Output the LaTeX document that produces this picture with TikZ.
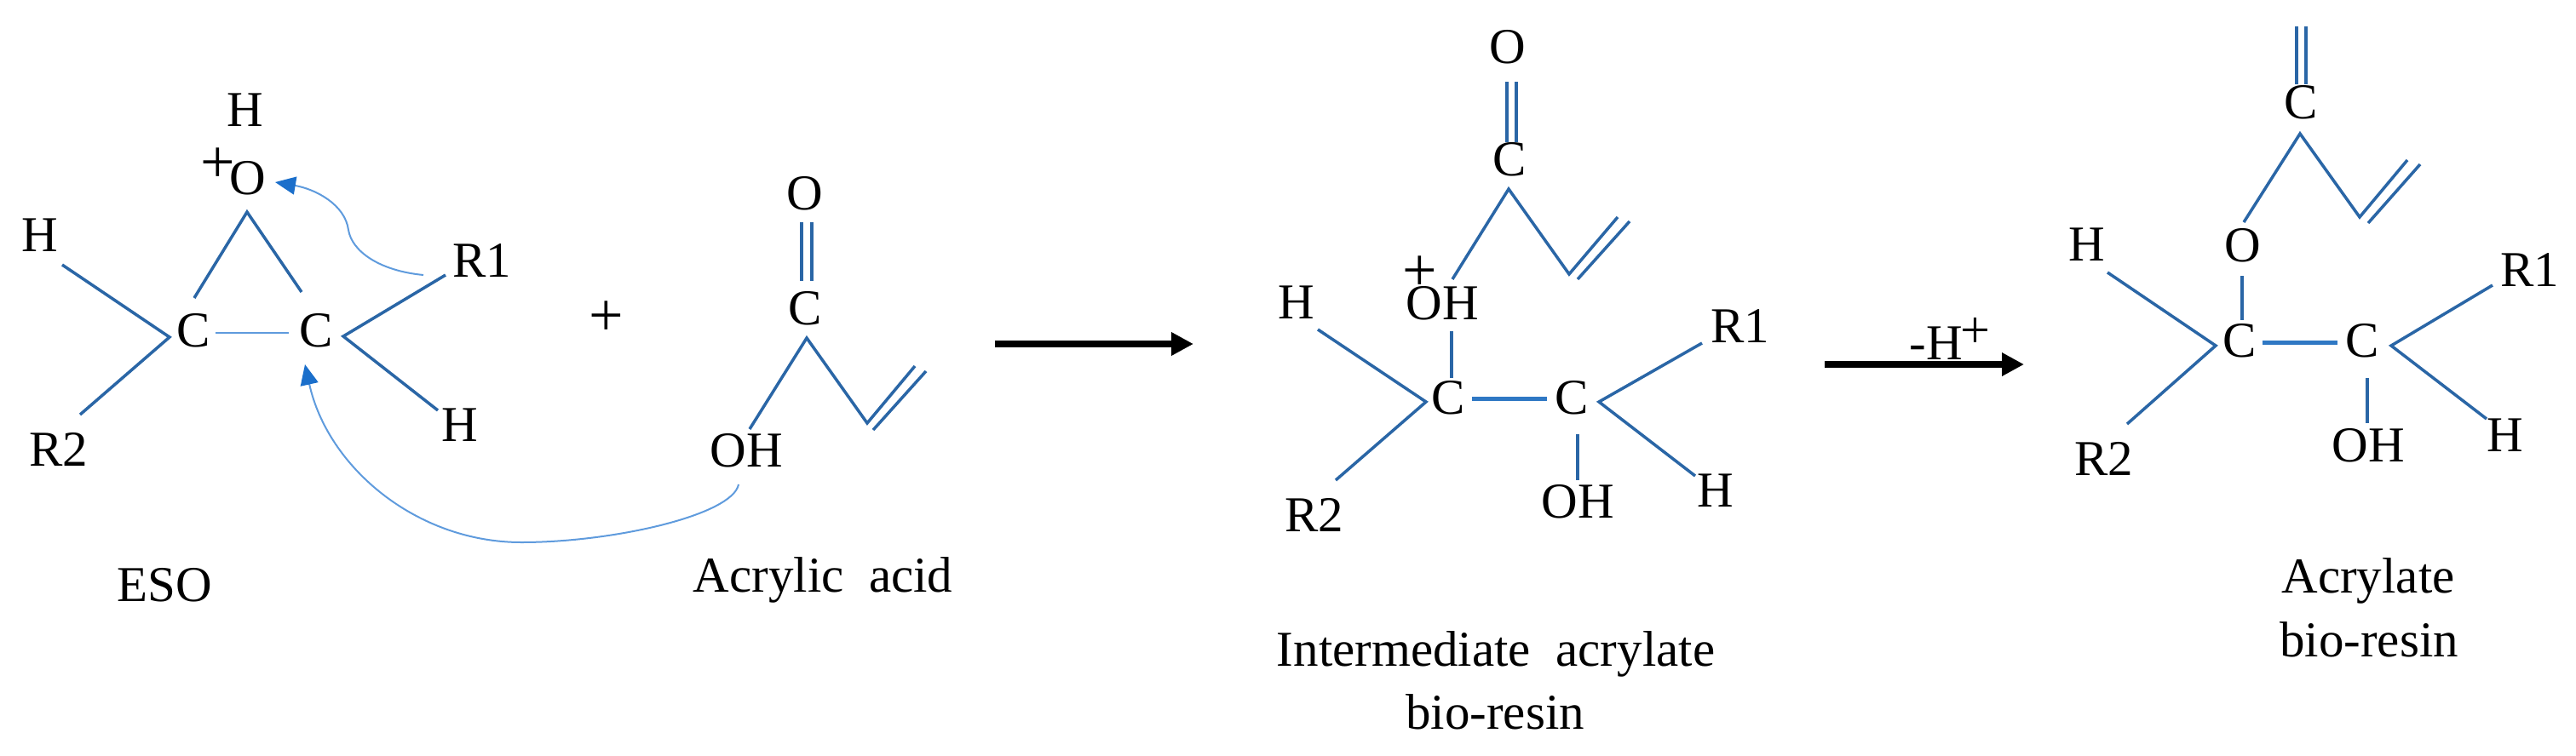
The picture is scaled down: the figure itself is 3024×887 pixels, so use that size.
\documentclass[tikz,border=0pt]{standalone}
\usepackage{fontspec}
\setmainfont{Liberation Serif}
\usetikzlibrary{arrows.meta}
\definecolor{bondblue}{HTML}{2A66A6}
\definecolor{brightblue}{HTML}{2F78C4}
\definecolor{curveblue}{HTML}{5F9BDD}
\definecolor{headblue}{HTML}{1B6FCB}
\tikzset{
  atom/.style={inner sep=0pt,outer sep=0pt,font=\fontsize{59}{69}\selectfont,align=center},
  charge/.style={inner sep=0pt,outer sep=0pt,font=\fontsize{72}{80}\selectfont},
  smallcharge/.style={inner sep=0pt,outer sep=0pt,font=\fontsize{62}{70}\selectfont},
  bond/.style={draw=bondblue,line width=3.5pt},
  ccbond/.style={draw=brightblue,line width=5pt},
  thinbond/.style={draw=curveblue,line width=2.5pt},
  curvearrow/.style={draw=curveblue,line width=2pt,-{Triangle[length=24pt,width=21pt,color=headblue]}},
  reaction/.style={draw=black,line width=8pt,-{Triangle[length=26pt,width=26pt]}}
}
\begin{document}
\begin{tikzpicture}[x=1pt,y=-1pt]
\useasboundingbox (0,0) rectangle (3024,887);
% ---- ESO
\node[atom] (eH) at (288,129) {H};
\node[atom] (eO) at (291,209) {O};
\node[charge] (ep) at (256,194) {+};
\node[atom] (eHl) at (47,276) {H};
\node[atom] (eC1) at (227,388) {C};
\node[atom] (eC2) at (371,388) {C};
\node[atom] (eR1) at (566,306) {R1};
\node[atom] (eR2) at (69,528) {R2};
\node[atom] (eHr) at (540,499) {H};
\node[atom] (eso) at (193,687) {ESO};
\coordinate (e1) at (73,311); \coordinate (e2) at (199,396); \coordinate (e3) at (94,487);
\coordinate (e4) at (228,350); \coordinate (e5) at (290,249); \coordinate (e6) at (354,343);
\coordinate (e7) at (253,391); \coordinate (e8) at (339,391);
\coordinate (e9) at (523,323); \coordinate (e10) at (403,395); \coordinate (e11) at (514,482);
\draw[bond] (e1) -- (e2) -- (e3);
\draw[bond] (e4) -- (e5) -- (e6);
\draw[thinbond] (e7) -- (e8);
\draw[bond] (e9) -- (e10) -- (e11);
\coordinate (ca1) at (497,323); \coordinate (ca2) at (409,270); \coordinate (ca3) at (323,214);
\draw[curvearrow] (ca1) .. controls (445,318) and (413,295) .. (ca2) .. controls (405,240) and (370,222) .. (ca3);
% ---- plus
\node[charge] (plus) at (712,374) {+};
% ---- Acrylic acid
\node[atom] (aO) at (945,227) {O};
\node[atom] (aC) at (945,362) {C};
\node[atom] (aOH) at (876,529) {OH};
\node[atom] (acr) at (966,681) {Acrylic\ \ acid};
\coordinate (a1) at (941,261); \coordinate (a2) at (941,330);
\coordinate (a3) at (953,261); \coordinate (a4) at (953,330);
\coordinate (a5) at (880,504); \coordinate (a6) at (947,397); \coordinate (a7) at (1018,497);
\coordinate (a8) at (1074,430); \coordinate (a9) at (1025,505); \coordinate (a10) at (1087,436);
\draw[bond] (a1) -- (a2);
\draw[bond] (a3) -- (a4);
\draw[bond] (a5) -- (a6) -- (a7) -- (a8);
\draw[bond] (a9) -- (a10);
\coordinate (cb1) at (867,569); \coordinate (cb2) at (612,637); \coordinate (cb3) at (358,428);
\draw[curvearrow] (cb1) .. controls (860,605) and (720,637) .. (cb2) .. controls (490,637) and (385,550) .. (cb3);
% ---- reaction arrow 1
\coordinate (r1) at (1168,404); \coordinate (r2) at (1401,404);
\draw[reaction] (r1) -- (r2);
% ---- Intermediate
\node[atom] (iO) at (1770,55) {O};
\node[atom] (iC) at (1772,187) {C};
\node[charge] (ip) at (1667,321) {+};
\node[atom] (iOH) at (1693,356) {OH};
\node[atom] (iHl) at (1522,355) {H};
\node[atom] (iC1) at (1700,467) {C};
\node[atom] (iC2) at (1845,467) {C};
\node[atom] (iR1) at (2043,383) {R1};
\node[atom] (iHr) at (2014,576) {H};
\node[atom] (iOH2) at (1852,589) {OH};
\node[atom] (iR2) at (1543,605) {R2};
\node[atom] (ilab) at (1756,768) {Intermediate\ \ acrylate};
\node[atom] (ilab2) at (1755,836) {bio-resin};
\coordinate (i1) at (1769,96); \coordinate (i2) at (1769,167);
\coordinate (i3) at (1780,96); \coordinate (i4) at (1780,167);
\coordinate (i5) at (1705,328); \coordinate (i6) at (1771,222); \coordinate (i7) at (1842,322);
\coordinate (i8) at (1899,255); \coordinate (i9) at (1852,328); \coordinate (i10) at (1913,260);
\coordinate (i11) at (1547,387); \coordinate (i12) at (1674,472); \coordinate (i13) at (1568,564);
\coordinate (i14) at (1704,389); \coordinate (i15) at (1704,444);
\coordinate (i16) at (1728,468); \coordinate (i17) at (1816,468);
\coordinate (i18) at (1998,403); \coordinate (i19) at (1877,472); \coordinate (i20) at (1990,559);
\coordinate (i21) at (1852,510); \coordinate (i22) at (1852,564);
\draw[bond] (i1) -- (i2);
\draw[bond] (i3) -- (i4);
\draw[bond] (i5) -- (i6) -- (i7) -- (i8);
\draw[bond] (i9) -- (i10);
\draw[bond] (i11) -- (i12) -- (i13);
\draw[bond] (i14) -- (i15);
\draw[ccbond] (i16) -- (i17);
\draw[bond] (i18) -- (i19) -- (i20);
\draw[bond] (i21) -- (i22);
% ---- reaction arrow 2
\coordinate (s1) at (2142,428); \coordinate (s2) at (2376,428);
\draw[reaction] (s1) -- (s2);
\node[atom] (sH) at (2273,403) {-H};
\node[smallcharge] (sp) at (2319,391) {+};
% ---- Acrylate
\node[atom] (pC) at (2701,120) {C};
\node[atom] (pO) at (2633,288) {O};
\node[atom] (pHl) at (2450,287) {H};
\node[atom] (pC1) at (2629,400) {C};
\node[atom] (pC2) at (2773,400) {C};
\node[atom] (pR1) at (2970,317) {R1};
\node[atom] (pHr) at (2941,511) {H};
\node[atom] (pOH) at (2780,523) {OH};
\node[atom] (pR2) at (2470,539) {R2};
\node[atom] (plab) at (2780,682) {Acrylate};
\node[atom] (plab2) at (2781,751) {bio-resin};
\coordinate (p1) at (2696,31); \coordinate (p2) at (2696,99);
\coordinate (p3) at (2707,31); \coordinate (p4) at (2707,99);
\coordinate (p5) at (2634,261); \coordinate (p6) at (2700,157); \coordinate (p7) at (2770,255);
\coordinate (p8) at (2826,188); \coordinate (p9) at (2780,262); \coordinate (p10) at (2841,193);
\coordinate (p11) at (2474,320); \coordinate (p12) at (2601,406); \coordinate (p13) at (2497,498);
\coordinate (p14) at (2632,324); \coordinate (p15) at (2632,376);
\coordinate (p16) at (2656,402); \coordinate (p17) at (2744,402);
\coordinate (p18) at (2926,335); \coordinate (p19) at (2807,406); \coordinate (p20) at (2919,492);
\coordinate (p21) at (2779,444); \coordinate (p22) at (2779,497);
\draw[bond] (p1) -- (p2);
\draw[bond] (p3) -- (p4);
\draw[bond] (p5) -- (p6) -- (p7) -- (p8);
\draw[bond] (p9) -- (p10);
\draw[bond] (p11) -- (p12) -- (p13);
\draw[bond] (p14) -- (p15);
\draw[ccbond] (p16) -- (p17);
\draw[bond] (p18) -- (p19) -- (p20);
\draw[bond] (p21) -- (p22);
\end{tikzpicture}
\end{document}
